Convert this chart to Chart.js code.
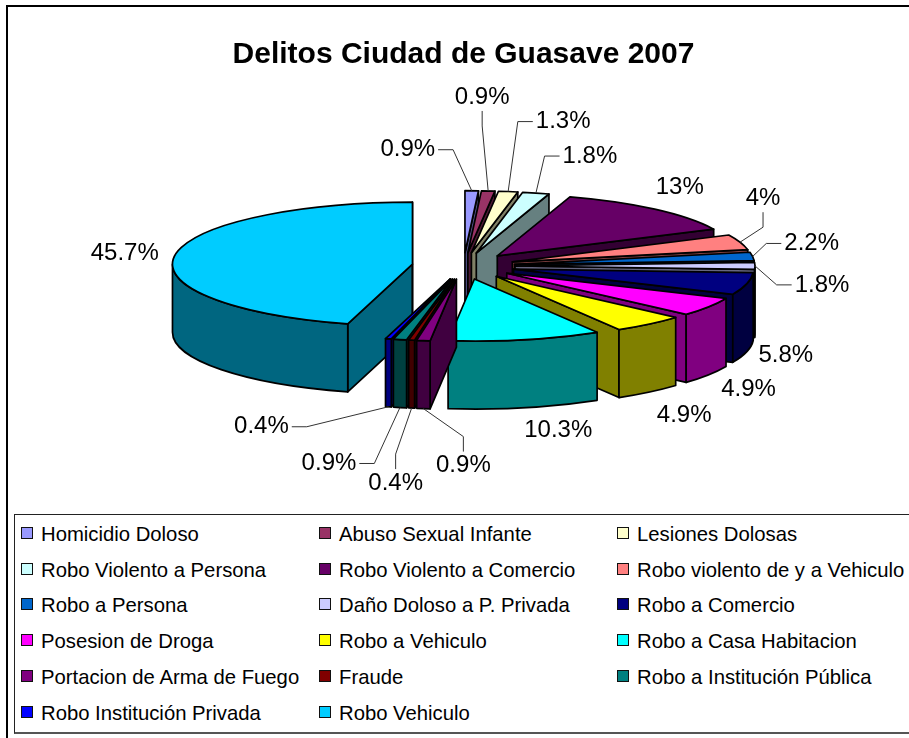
<!DOCTYPE html>
<html>
<head>
<meta charset="utf-8">
<title>Delitos Ciudad de Guasave 2007</title>
<script src="https://cdn.jsdelivr.net/npm/chart.js@4"></script>
<style>
  html, body { margin: 0; padding: 0; background: #fff; overflow: hidden; width: 909px; height: 738px; }
  #frame { position: absolute; left: 6px; top: 5px; width: 950px; height: 800px; border: 2px solid #000; }
  #myChart { position: absolute; left: 0; top: 0; }
  #legend {
    position: absolute; left: 14px; top: 514px; width: 950px; height: 217px;
    border: 1px solid #222; border-bottom: 2px solid #555; background: #fff;
    font: 20.3px "Liberation Sans", Arial, sans-serif; color: #000;
  }
  .item { position: absolute; white-space: nowrap; height: 20px; line-height: 20px; }
  .item i {
    position: absolute; left: 0; top: 3px; width: 10px; height: 10px;
    border: 1.5px solid #111; display: block;
  }
  .item span { position: absolute; left: 20px; top: 0; }
</style>
</head>
<body>
<div id="frame"></div>
<canvas id="myChart" width="909" height="738"></canvas>
<div id="legend"></div>
<script>
const labels = ["Homicidio Doloso", "Abuso Sexual Infante", "Lesiones Dolosas",
  "Robo Violento a Persona", "Robo Violento a Comercio", "Robo violento de y a Vehiculo",
  "Robo a Persona", "Daño Doloso a P. Privada", "Robo a Comercio",
  "Posesion de Droga", "Robo a Vehiculo", "Robo a Casa Habitacion",
  "Portacion de Arma de Fuego", "Fraude", "Robo a Institución Pública",
  "Robo Institución Privada", "Robo Vehiculo"]
const values = [0.9, 0.9, 1.3, 1.8, 13, 4, 2.2, 1.8, 5.8, 4.9, 4.9, 10.3, 0.9, 0.4, 0.9, 0.4, 45.7]
const colors = ["#9999FF", "#993366", "#FFFFCC", "#CCFFFF", "#660066", "#FF8080",
  "#0066CC", "#CCCCFF", "#000080", "#FF00FF", "#FFFF00", "#00FFFF",
  "#800080", "#800000", "#008080", "#0000FF", "#00CCFF"]
const wallColors = ["#4C4C80", "#4C1933", "#808066", "#668080", "#330033", "#804040",
  "#003366", "#666680", "#000040", "#800080", "#808000", "#008080",
  "#400040", "#400000", "#004040", "#000080", "#006680"]

// where each percentage sits relative to the outer edge of its slice, and which side its leader leaves from
const labelNudge = [[-64, -41], [-6, -94], [55, -70], [54, -37], [25, -22], [23, -44], [59, -13], [67, 19],
  [39, 72], [40, 83], [35, 91], [33, 91], [40, 125], [-16, 143], [-71, 124], [-127, 88], [-50, -2]]
const leaderSide = ["r", "b", "l", "l", "", "b", "l", "l", "", "", "", "", "t", "t", "r", "r", ""]

const squash = 62 / 240   // tilt of the pie
const explode = 51.5      // how far each slice is pulled out
const depth = 68          // height of the pie

// Draws one slice: side faces, curved wall, then the top
function drawSlice(ctx, arc, i) {
  const mid = (arc.startAngle + arc.endAngle) / 2
  const r = arc.outerRadius
  const ox = arc.x + Math.cos(mid) * explode
  const oy = arc.y + Math.sin(mid) * explode * squash

  ctx.fillStyle = wallColors[i]
  ctx.strokeStyle = "#000"
  ctx.lineWidth = 1.7
  ctx.lineJoin = "round"

  // only the flat face that looks towards the viewer
  let faces = []
  if (Math.cos(arc.startAngle) < 0) faces.push(arc.startAngle)
  if (Math.cos(arc.endAngle) > 0) faces.push(arc.endAngle)
  for (let a of faces) {
    let ex = ox + Math.cos(a) * r
    let ey = oy + Math.sin(a) * r * squash
    ctx.beginPath()
    ctx.moveTo(ox, oy)
    ctx.lineTo(ex, ey)
    ctx.lineTo(ex, ey + depth)
    ctx.lineTo(ox, oy + depth)
    ctx.closePath()
    ctx.fill()
    ctx.stroke()
  }

  // only the part of the wall that faces the viewer
  let a0 = Math.max(arc.startAngle, 0)
  let a1 = Math.min(arc.endAngle, Math.PI)
  if (a1 > a0) {
    ctx.beginPath()
    ctx.ellipse(ox, oy, r, r * squash, 0, a0, a1)
    ctx.ellipse(ox, oy + depth, r, r * squash, 0, a1, a0, true)
    ctx.closePath()
    ctx.fill()
    ctx.stroke()
  }

  // top comes from the library's own arc
  ctx.save()
  ctx.translate(ox, oy)
  ctx.scale(1, squash)
  ctx.translate(-arc.x, -arc.y)
  arc.draw(ctx)
  ctx.restore()

  ctx.beginPath()
  ctx.moveTo(ox, oy)
  ctx.ellipse(ox, oy, r, r * squash, 0, arc.startAngle, arc.endAngle)
  ctx.closePath()
  ctx.stroke()
}

// Draws the percentages and the leader lines
function drawLabels(ctx, arcs) {
  ctx.font = '24px "Liberation Sans", Arial, sans-serif'
  ctx.textAlign = "center"
  ctx.textBaseline = "middle"
  arcs.forEach((arc, i) => {
    const mid = (arc.startAngle + arc.endAngle) / 2
    const reach = arc.outerRadius + explode
    let ax = arc.x + Math.cos(mid) * reach
    let ay = arc.y + Math.sin(mid) * reach * squash
    let tx = ax + labelNudge[i][0]
    let ty = ay + labelNudge[i][1]
    let text = values[i] + "%"
    ctx.fillStyle = "#000"
    ctx.fillText(text, tx, ty)

    let side = leaderSide[i]
    if (!side) return
    let half = ctx.measureText(text).width / 2 + 3
    let sx = tx, sy = ty, ex = tx, ey = ty
    if (side == "r") { sx = tx + half; ex = sx + 15 }
    if (side == "l") { sx = tx - half; ex = sx - 15 }
    if (side == "b") { sy = ty + 14; ey = sy + 15 }
    if (side == "t") { sy = ty - 14; ey = sy - 15 }
    if (Math.sin(mid) > 0.5) ay += depth
    ctx.strokeStyle = "#333"
    ctx.lineWidth = 1
    ctx.beginPath()
    ctx.moveTo(sx, sy)
    ctx.lineTo(ex, ey)
    ctx.lineTo(ax, ay)
    ctx.stroke()
  })
}

const pie3d = {
  id: "pie3d",
  beforeDatasetsDraw(chart) {
    const ctx = chart.ctx
    const arcs = chart.getDatasetMeta(0).data
    // back slices first so the front ones cover them
    const order = arcs.map((arc, i) => i).sort((a, b) => {
      return Math.sin((arcs[a].startAngle + arcs[a].endAngle) / 2) - Math.sin((arcs[b].startAngle + arcs[b].endAngle) / 2)
    })
    order.forEach(i => drawSlice(ctx, arcs[i], i))
    drawLabels(ctx, arcs)
    return false
  }
}

const myChart = new Chart(document.getElementById("myChart").getContext("2d"), {
  type: "pie",
  data: {
    labels: labels,
    datasets: [{ data: values, backgroundColor: colors, borderWidth: 0 }]
  },
  options: {
    responsive: false,
    animation: false,
    radius: 240,
    layout: { padding: { left: 18, right: 0, top: 0, bottom: 279 } },
    plugins: {
      tooltip: { enabled: false },
      legend: { display: false },
      title: {
        display: true,
        text: "Delitos Ciudad de Guasave 2007",
        color: "#000",
        padding: { top: 37, bottom: 0 },
        font: { family: '"Liberation Sans", Arial, sans-serif', size: 30, weight: "bold" }
      }
    }
  },
  plugins: [pie3d]
})

// HTML legend, three columns filled row by row
const legendBox = document.getElementById("legend")
const legendItems = myChart.options.plugins.legend.labels.generateLabels(myChart)
legendItems.forEach((item, i) => {
  let row = document.createElement("div")
  row.className = "item"
  row.style.left = (6 + (i % 3) * 298) + "px"
  row.style.top = (9 + Math.floor(i / 3) * 35.7) + "px"
  let box = document.createElement("i")
  box.style.background = colors[item.index]
  let name = document.createElement("span")
  name.textContent = item.text
  row.appendChild(box)
  row.appendChild(name)
  legendBox.appendChild(row)
})
</script>
</body>
</html>
